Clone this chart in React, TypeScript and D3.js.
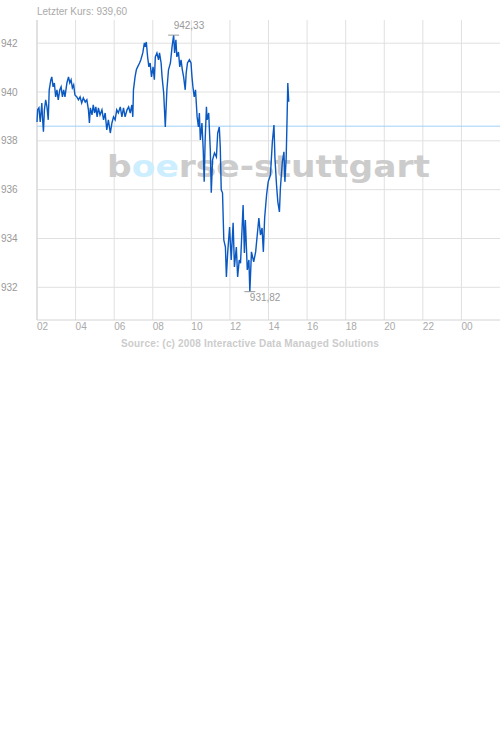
import React from "react";
import * as d3 from "d3";

// intraday quotes (time of day, price)
const times = [
  "02:00", "02:02", "02:06", "02:10", "02:15", "02:17", "02:20", "02:23", "02:27", "02:31",
  "02:35", "02:38", "02:43", "02:46", "02:50", "02:54", "02:58", "03:02", "03:06", "03:11",
  "03:15", "03:19", "03:23", "03:27", "03:33", "03:38", "03:42", "03:46", "03:50", "03:54",
  "03:58", "04:04", "04:09", "04:14", "04:19", "04:24", "04:30", "04:35", "04:40", "04:43",
  "04:46", "04:51", "04:55", "04:59", "05:03", "05:07", "05:11", "05:16", "05:22", "05:27",
  "05:32", "05:37", "05:42", "05:48", "05:53", "05:58", "06:03", "06:08", "06:13", "06:19",
  "06:24", "06:29", "06:34", "06:40", "06:45", "06:50", "06:55", "06:58", "07:00", "07:05",
  "07:09", "07:13", "07:19", "07:23", "07:29", "07:34", "07:37", "07:40", "07:44", "07:48",
  "07:52", "07:56", "08:01", "08:05", "08:08", "08:13", "08:18", "08:21", "08:26", "08:29",
  "08:34", "08:39", "08:44", "08:49", "08:55", "09:00", "09:03", "09:05", "09:08", "09:12",
  "09:15", "09:20", "09:24", "09:28", "09:32", "09:36", "09:41", "09:44", "09:48", "09:54",
  "09:59", "10:02", "10:05", "10:09", "10:13", "10:18", "10:22", "10:25", "10:28", "10:33",
  "10:37", "10:40", "10:43", "10:47", "10:49", "10:54", "10:59", "11:02", "11:06", "11:12",
  "11:18", "11:22", "11:27", "11:30", "11:33", "11:37", "11:41", "11:46", "11:49", "11:53",
  "11:59", "12:04", "12:10", "12:14", "12:20", "12:24", "12:29", "12:33", "12:38", "12:41",
  "12:45", "12:48", "12:54", "12:59", "13:02", "13:07", "13:14", "13:20", "13:25", "13:30",
  "13:35", "13:40", "13:44", "13:48", "13:54", "13:59", "14:06", "14:12", "14:17", "14:20",
  "14:25", "14:29", "14:34", "14:37", "14:43", "14:48", "14:51", "14:55", "14:58", "15:00",
  "15:03",
];

const prices = [
  938.77, 939.27, 939.35, 938.77, 939.55, 938.98, 938.37, 939.27, 939.68, 939.39,
  938.86, 940.09, 940.5, 940.62, 940.21, 940.37, 939.8, 940.09, 939.68, 940.09,
  940.21, 939.8, 940.09, 939.8, 940.37, 940.62, 940.37, 940.5, 940.17, 940.29,
  939.88, 939.8, 939.68, 939.8, 939.55, 939.76, 939.59, 939.68, 939.27, 938.73,
  939.35, 939.06, 939.47, 939.14, 939.39, 938.98, 939.35, 939.06, 939.27, 938.86,
  939.14, 938.45, 938.86, 938.32, 938.73, 938.98, 938.86, 939.27, 939.14, 939.39,
  938.98, 939.35, 938.98, 939.27, 939.39, 939.14, 939.47, 938.98, 940.09, 940.62,
  940.91, 941.03, 941.19, 941.32, 941.6, 942.01, 941.85, 942.05, 941.44, 941.03,
  941.19, 940.62, 941.03, 940.5, 941.44, 941.6, 941.32, 941.6, 941.19, 940.62,
  939.96, 938.57, 940.09, 940.91, 941.19, 941.85, 942.14, 942.33, 941.6, 942.14,
  941.44, 941.64, 941.03, 941.32, 940.91, 940.62, 940.09, 940.78, 941.19, 941.32,
  941.19, 940.62, 940.21, 939.8, 940.09, 938.98, 938.57, 939.14, 938.04, 938.73,
  937.63, 936.32, 938.04, 939.39, 938.86, 939.14, 937.63, 935.87, 937.22, 937.5,
  937.34, 938.32, 938.57, 937.75, 935.99, 935.87, 933.94, 933.65, 932.42, 933.41,
  934.47, 933.12, 934.64, 932.83, 933.65, 932.42, 933.12, 932.99, 934.47, 935.37,
  933.41, 934.76, 932.71, 933.12, 931.82, 933.45, 933.04, 933.45, 934.14, 934.84,
  934.14, 934.43, 933.45, 934.84, 935.78, 936.32, 936.6, 937.96, 938.65, 937.3,
  936.19, 935.5, 935.09, 936.07, 937.13, 937.55, 936.32, 937.3, 939.06, 940.37,
  939.6,
];

const previousClose = 938.6;
const lastPrice = 939.6;
const yTicks = [932, 934, 936, 938, 940, 942];
const yDomain = [930.66, 942.95];
const sessionStart = "02:00";

const W = 500;
const H = 735;
const left = 37;
const right = 500;
const top = 20;
const bottom = 320;

const parseTime = d3.timeParse("%H:%M");
const fmtNum = (v: number) => v.toFixed(2).replace(".", ",");
const font = "'Liberation Sans', Arial, sans-serif";

const App: React.FC = () => {
  const data = times.map((t, i) => ({ t: parseTime(t) as Date, v: prices[i] }));
  const start = parseTime(sessionStart) as Date;
  const end = d3.timeDay.offset(start, 1);

  const x = d3.scaleTime().domain([start, end]).range([left, right]);
  const y = d3.scaleLinear().domain(yDomain).range([bottom, top]);

  const xTicks = x.ticks(d3.timeHour.every(2) as d3.TimeInterval).filter(d => d < end);
  const fmtHour = d3.timeFormat("%H");

  const line = d3
    .line<{ t: Date; v: number }>()
    .x(d => x(d.t))
    .y(d => y(d.v));

  const maxD = data[d3.maxIndex(data, d => d.v)];
  const minD = data[d3.minIndex(data, d => d.v)];

  return (
    <svg
      width={W}
      height={H}
      style={{ position: "absolute", left: 0, top: 0, background: "#fff" }}
      fontFamily={font}
    >
      <text x={left} y={15} fontSize={10} fill="#aaa">
        Letzter Kurs: {fmtNum(lastPrice)}
      </text>

      {/* grid */}
      {yTicks.map(v => (
        <g key={v}>
          <line x1={left} x2={right} y1={y(v)} y2={y(v)} stroke="#e0e0e0" />
          <text x={1} y={y(v)} dy="0.35em" fontSize={10} fill="#999">
            {v}
          </text>
        </g>
      ))}
      {xTicks.map(d => (
        <g key={+d}>
          <line x1={x(d)} x2={x(d)} y1={top} y2={bottom} stroke="#e0e0e0" />
          <text x={x(d)} y={330} fontSize={10} fill="#aaa">
            {fmtHour(d)}
          </text>
        </g>
      ))}
      <line x1={left} x2={right} y1={bottom} y2={bottom} stroke="#d4d4d4" />
      <line x1={left} x2={left} y1={top} y2={bottom} stroke="#d4d4d4" />

      {/* watermark */}
      <text
        x={107}
        y={177}
        fontFamily="'DejaVu Sans', sans-serif"
        fontWeight="bold"
        fontSize={31}
        textLength={323}
        lengthAdjust="spacingAndGlyphs"
        fill="#cccccc"
      >
        b<tspan fill="#cdeeff">oe</tspan>rse-stuttgart
      </text>

      <line
        x1={left}
        x2={right}
        y1={y(previousClose)}
        y2={y(previousClose)}
        stroke="#9fd0f8"
      />

      <path d={line(data) ?? ""} fill="none" stroke="#0a58c2" strokeWidth={1.4} />

      {/* high / low markers */}
      <line x1={x(maxD.t) - 5.5} x2={x(maxD.t) + 5.5} y1={y(maxD.v)} y2={y(maxD.v)} stroke="#999" />
      <text x={x(maxD.t)} y={y(maxD.v) - 6} fontSize={10} fill="#999">
        {fmtNum(maxD.v)}
      </text>
      <line x1={x(minD.t) - 5.5} x2={x(minD.t) + 5.5} y1={y(minD.v)} y2={y(minD.v)} stroke="#999" />
      <text x={x(minD.t)} y={y(minD.v) + 9} fontSize={10} fill="#999">
        {fmtNum(minD.v)}
      </text>

      <text
        x={250}
        y={346.5}
        textAnchor="middle"
        fontSize={10}
        fontWeight="bold"
        letterSpacing={0.18}
        fill="#ccc"
      >
        Source: (c) 2008 Interactive Data Managed Solutions
      </text>
    </svg>
  );
};

export default App;
